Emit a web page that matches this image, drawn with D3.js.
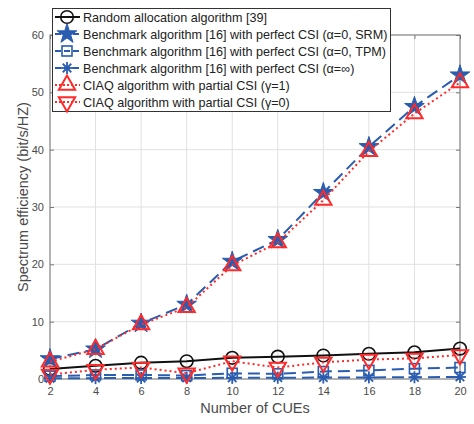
<!doctype html>
<html lang="en">
<head>
<meta charset="utf-8">
<title>Spectrum efficiency vs number of CUEs</title>
<style>
html, body { margin: 0; padding: 0; background: #fff; }
svg text { font-family: 'Liberation Sans', Arial, sans-serif; }
</style>
</head>
<body>
<div id="chart"></div>
<script src="https://cdn.jsdelivr.net/npm/d3@7/dist/d3.min.js"></script>
<script>
// data
var cues = [2, 4, 6, 8, 10, 12, 14, 16, 18, 20];
var randomAlloc = [1.75, 2.3, 2.85, 3.1, 3.7, 3.9, 4.1, 4.4, 4.65, 5.3];
var benchSRM = [3.5, 5.2, 9.7, 13.0, 20.5, 24.3, 32.5, 40.5, 47.5, 53.0];
var benchTPM = [0.5, 0.7, 0.7, 0.6, 1.0, 0.9, 1.3, 1.5, 1.8, 2.0];
var benchInf = [0.12, 0.15, 0.17, 0.18, 0.2, 0.22, 0.25, 0.28, 0.3, 0.35];
var ciaqG1 = [3.0, 5.2, 9.5, 12.5, 19.8, 23.8, 31.2, 39.7, 46.3, 51.7];
var ciaqG0 = [0.8, 1.6, 2.0, 1.0, 3.1, 2.0, 2.9, 3.4, 3.6, 4.2];
var yTicks = [0, 10, 20, 30, 40, 50, 60];
var seriesNames = [
  'Random allocation algorithm [39]',
  'Benchmark algorithm [16] with perfect CSI (\u03b1=0, SRM)',
  'Benchmark algorithm [16] with perfect CSI (\u03b1=0, TPM)',
  'Benchmark algorithm [16] with perfect CSI (\u03b1=\u221e)',
  'CIAQ algorithm with partial CSI (\u03b3=1)',
  'CIAQ algorithm with partial CSI (\u03b3=0)'
];

var W = 474, H = 424;
var m = { left: 50, right: 14, top: 35, bottom: 45 };
var BLUE = '#2a5db0', RED = '#ff2a2a', BLACK = '#111', AXIS = '#777';

var series = [
  { name: seriesNames[0], values: randomAlloc, color: BLACK, dash: null, marker: 'circle' },
  { name: seriesNames[1], values: benchSRM, color: BLUE, dash: '12,6', marker: 'star' },
  { name: seriesNames[2], values: benchTPM, color: BLUE, dash: '12,6', marker: 'square' },
  { name: seriesNames[3], values: benchInf, color: BLUE, dash: '12,6', marker: 'asterisk' },
  { name: seriesNames[4], values: ciaqG1, color: RED, dash: '2,3', marker: 'triup' },
  { name: seriesNames[5], values: ciaqG0, color: RED, dash: '2,3', marker: 'tridown' }
];

var svg = d3.select('#chart').append('svg').attr('width', W).attr('height', H);

var x = d3.scaleLinear().domain([2, 20]).range([m.left, W - m.right]);
var y = d3.scaleLinear().domain([0, 60]).range([H - m.bottom, m.top]);

// grid
var grid = svg.append('g');
grid.selectAll('.gx').data(cues).enter().append('line')
  .attr('x1', function (d) { return x(d); }).attr('x2', function (d) { return x(d); })
  .attr('y1', y(0)).attr('y2', y(60))
  .attr('stroke', '#e1e1e1').attr('stroke-width', 1);
grid.selectAll('.gy').data(yTicks).enter().append('line')
  .attr('y1', function (d) { return y(d); }).attr('y2', function (d) { return y(d); })
  .attr('x1', x(2)).attr('x2', x(20))
  .attr('stroke', '#e1e1e1').attr('stroke-width', 1);

// axes (ticks inside, matlab style)
var styleAxis = function (g) {
  g.select('.domain').remove();
  g.selectAll('line').attr('stroke', AXIS);
  g.selectAll('text').attr('fill', '#4a4a4a').attr('font-size', 11);
};
svg.append('g').attr('transform', 'translate(0,' + y(0) + ')')
  .call(d3.axisBottom(x).tickValues(cues).tickSize(-4).tickPadding(8))
  .call(styleAxis);
svg.append('g').attr('transform', 'translate(0,' + y(60) + ')')
  .call(d3.axisTop(x).tickValues(cues).tickSize(-4).tickFormat(''))
  .call(styleAxis);
svg.append('g').attr('transform', 'translate(' + x(2) + ',0)')
  .call(d3.axisLeft(y).tickValues(yTicks).tickSize(-4).tickPadding(6))
  .call(styleAxis);
svg.append('g').attr('transform', 'translate(' + x(20) + ',0)')
  .call(d3.axisRight(y).tickValues(yTicks).tickSize(-4).tickFormat(''))
  .call(styleAxis);
svg.append('rect')
  .attr('x', x(2)).attr('y', y(60))
  .attr('width', x(20) - x(2)).attr('height', y(0) - y(60))
  .attr('fill', 'none').attr('stroke', AXIS).attr('stroke-width', 1);

// labels
svg.append('text').attr('x', (x(2) + x(20)) / 2).attr('y', 413)
  .attr('text-anchor', 'middle').attr('font-size', 14.5).attr('fill', '#4a4a4a')
  .text('Number of CUEs');
svg.append('text')
  .attr('transform', 'translate(28,197) rotate(-90)')
  .attr('text-anchor', 'middle').attr('font-size', 14.5).attr('fill', '#4a4a4a')
  .text('Spectrum efficiency (bit/s/HZ)');

// markers
var drawMarker = function (g, type, color) {
  if (type === 'circle') {
    g.append('circle').attr('r', 6.3).attr('fill', 'none').attr('stroke', color).attr('stroke-width', 1.6);
  } else if (type === 'square') {
    g.append('rect').attr('x', -5).attr('y', -5).attr('width', 10).attr('height', 10)
      .attr('fill', 'none').attr('stroke', color).attr('stroke-width', 1.6);
  } else if (type === 'star') {
    g.append('path').attr('d', d3.symbol().type(d3.symbolStar).size(120)())
      .attr('fill', color).attr('stroke', color).attr('stroke-width', 1);
  } else if (type === 'asterisk') {
    var r = 6;
    [0, 45, 90, 135].forEach(function (a) {
      var t = a * Math.PI / 180;
      g.append('line').attr('x1', -r * Math.cos(t)).attr('y1', -r * Math.sin(t))
        .attr('x2', r * Math.cos(t)).attr('y2', r * Math.sin(t))
        .attr('stroke', color).attr('stroke-width', 1.8);
    });
  } else if (type === 'triup' || type === 'tridown') {
    g.append('path').attr('d', d3.symbol().type(d3.symbolTriangle).size(115)())
      .attr('transform', type === 'tridown' ? 'rotate(180)' : null)
      .attr('fill', 'none').attr('stroke', color).attr('stroke-width', 2);
  }
};

var line = d3.line()
  .x(function (d, i) { return x(cues[i]); })
  .y(function (d) { return y(d); });

var plot = svg.append('g');
series.forEach(function (s) {
  plot.append('path').datum(s.values)
    .attr('d', line).attr('fill', 'none')
    .attr('stroke', s.color).attr('stroke-width', 2)
    .attr('stroke-dasharray', s.dash);
  plot.selectAll(null).data(s.values).enter().append('g')
    .attr('transform', function (d, i) { return 'translate(' + x(cues[i]) + ',' + y(d) + ')'; })
    .each(function () { drawMarker(d3.select(this), s.marker, s.color); });
});

// legend
var lg = svg.append('g');
lg.append('rect').attr('x', 52.5).attr('y', 8.5).attr('width', 338).attr('height', 103)
  .attr('fill', '#fff').attr('stroke', '#333').attr('stroke-width', 1);
series.forEach(function (s, i) {
  var ly = 17 + i * 17;
  lg.append('line').attr('x1', 55).attr('x2', 80).attr('y1', ly).attr('y2', ly)
    .attr('stroke', s.color).attr('stroke-width', 2)
    .attr('stroke-dasharray', s.dash ? (s.color === RED ? '2,2' : '6,3') : null);
  drawMarker(lg.append('g').attr('transform', 'translate(67,' + ly + ')'), s.marker, s.color);
  lg.append('text').attr('x', 83).attr('y', ly + 4.5).attr('font-size', 12.6).attr('fill', '#222')
    .text(s.name);
});
</script>
</body>
</html>
